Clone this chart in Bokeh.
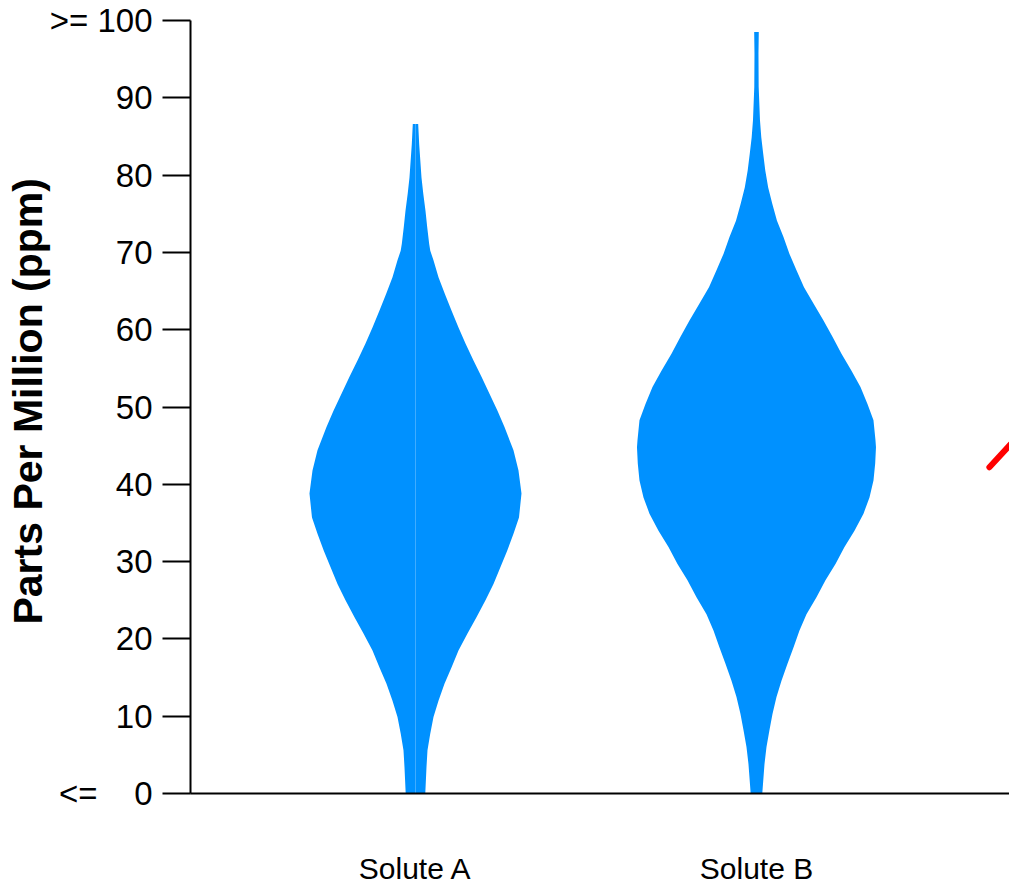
from bokeh.plotting import figure
from bokeh.models import Range1d, FixedTicker
from bokeh.layouts import column
from bokeh.core.properties import value
from bokeh.embed import file_html
from bokeh.resources import INLINE

# ---- data ----
categories = ["Solute A", "Solute B"]
cat_pos = [1, 2]

# Solute A: ppm levels and kernel density (relative half-width)
ppm_a = [0, 3.4, 5.6, 7.7, 9.9, 12.0, 14.2, 16.3, 18.5, 20.7, 22.8, 25.0, 27.1,
         29.3, 31.4, 33.6, 35.7, 38.8, 41.8, 44.4, 47.4, 49.5, 51.7, 53.9, 56.0,
         58.2, 60.3, 62.5, 64.6, 66.8, 69.0, 70.2, 71.1, 73.3, 75.4, 77.6, 79.7,
         84.0, 86.6]
dens_a = [0.098, 0.11, 0.12, 0.147, 0.18, 0.23, 0.29, 0.36, 0.43, 0.52, 0.61, 0.70, 0.78,
          0.85, 0.917, 0.98, 1.035, 1.06, 1.03, 0.98, 0.89, 0.82, 0.74, 0.66, 0.58,
          0.50, 0.43, 0.36, 0.295, 0.23, 0.18, 0.148, 0.137, 0.117, 0.10, 0.078, 0.06,
          0.037, 0.027]

# Solute B
ppm_b = [0, 3.8, 6.0, 8.2, 10.3, 12.5, 14.6, 16.8, 18.9, 21.1, 23.2, 25.4, 27.6,
         29.7, 31.9, 34.0, 36.2, 38.3, 40.5, 42.7, 44.8, 45.7, 48.3, 50.4, 52.6,
         54.7, 56.9, 59.1, 61.2, 63.4, 65.5, 67.7, 69.8, 72.0, 74.1, 76.3, 78.4,
         80.6, 82.8, 84.9, 87.1, 91.4, 95.7, 98.5]
dens_b = [0.058, 0.08, 0.10, 0.13, 0.16, 0.20, 0.25, 0.31, 0.37, 0.43, 0.50, 0.60, 0.69,
          0.79, 0.88, 0.98, 1.07, 1.13, 1.17, 1.187, 1.195, 1.19, 1.17, 1.11, 1.04,
          0.95, 0.85, 0.76, 0.67, 0.57, 0.475, 0.40, 0.33, 0.27, 0.205, 0.158, 0.117,
          0.088, 0.067, 0.048, 0.035, 0.022, 0.02, 0.023]

# partial red line at the right edge
red_x = [2.683, 2.80]
red_y = [42.2, 47.8]

y_ticks = [0, 10, 20, 30, 40, 50, 60, 70, 80, 90, 100]

# ---- figure ----
WIDTH_SCALE = 100.0 / 341.0   # density -> category units
BLUE = "#0091FF"
FONT = "Liberation Sans"

x_range = Range1d(0.3402, 2.742)

p = figure(width=1009, height=816, output_backend="svg", toolbar_location=None,
           x_range=x_range, y_range=Range1d(0, 100),
           min_border_left=190, min_border_right=0, min_border_top=20,
           min_border_bottom=23)
p.outline_line_color = None
p.xgrid.visible = False
p.ygrid.visible = False
p.background_fill_color = "white"
p.border_fill_color = "white"

# Solute A drawn as two halves (visible seam in reference)
c = cat_pos[0]
p.patch([c - d * WIDTH_SCALE for d in dens_a] + [c, c], list(ppm_a) + [ppm_a[-1], ppm_a[0]],
        fill_color=BLUE, line_color=None)
p.patch([c + d * WIDTH_SCALE for d in dens_a] + [c, c], list(ppm_a) + [ppm_a[-1], ppm_a[0]],
        fill_color=BLUE, line_color=None)

# Solute B as one outline
c = cat_pos[1]
p.patch([c - d * WIDTH_SCALE for d in dens_b] + [c + d * WIDTH_SCALE for d in dens_b[::-1]],
        list(ppm_b) + list(ppm_b[::-1]), fill_color=BLUE, line_color=None)

p.line(red_x, red_y, line_color="red", line_width=6, line_cap="round")

# y axis
ya = p.yaxis[0]
ya.ticker = FixedTicker(ticks=y_ticks)
ya.major_label_overrides = {0: "<=\u00a0\u00a0\u00a0\u00a00", 100: ">= 100"}
ya.minor_tick_line_color = None
ya.major_tick_in = 0
ya.major_tick_out = 28
ya.major_tick_line_width = 2
ya.axis_line_width = 2
ya.axis_line_color = "black"
ya.major_tick_line_color = "black"
ya.major_label_text_font = FONT
ya.major_label_text_font_size = "33px"
ya.major_label_text_color = "black"
ya.major_label_standoff = 10
ya.axis_label = "\u00a0Parts Per Million (ppm)"
ya.axis_label_text_font = FONT
ya.axis_label_text_font_style = "bold"
ya.axis_label_text_font_size = "41px"
ya.axis_label_text_color = "black"
ya.axis_label_standoff = -4

# x axis: line only
xa = p.xaxis[0]
xa.ticker = FixedTicker(ticks=[])
xa.minor_tick_line_color = None
xa.major_tick_line_color = None
xa.major_tick_in = 0
xa.major_tick_out = 0
xa.axis_line_width = 2
xa.axis_line_color = "black"

# category names strip below, sharing the x scale
q = figure(width=1009, height=70, output_backend="svg", toolbar_location=None,
           x_range=x_range, y_range=Range1d(0, 70),
           min_border_left=190, min_border_right=0, min_border_top=0,
           min_border_bottom=0)
q.outline_line_color = None
q.xgrid.visible = False
q.ygrid.visible = False
q.xaxis.visible = False
q.yaxis.visible = False
q.text(x=cat_pos, y=[18, 18], text=categories, text_align="center",
       text_baseline="middle", text_font=value(FONT), text_font_size="30px",
       text_color="black")

layout = column(p, q, spacing=0)
open("out.html", "w").write(file_html(layout, INLINE))
